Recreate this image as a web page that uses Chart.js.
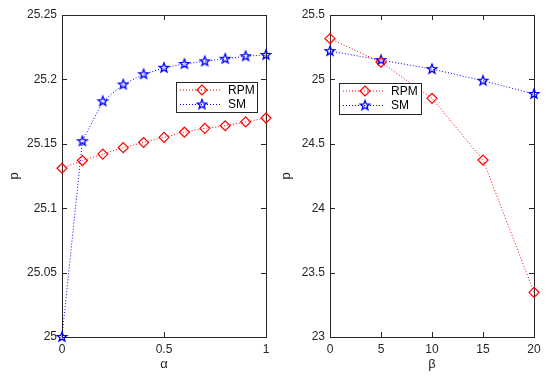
<!DOCTYPE html>
<html>
<head>
<meta charset="utf-8">
<script src="https://cdn.jsdelivr.net/npm/chart.js@4"></script>
<style>
  body { margin: 0; background: #fff; }
  .panel { position: absolute; top: 0; width: 275px; height: 376px; }
</style>
</head>
<body>
<div class="panel" style="left:0"><canvas id="chartAlpha"></canvas></div>
<div class="panel" style="left:275px"><canvas id="chartBeta"></canvas></div>
<script>
// left panel: p versus alpha
var alphaValues = [0, 0.1, 0.2, 0.3, 0.4, 0.5, 0.6, 0.7, 0.8, 0.9, 1];
var alphaRPM = [25.131, 25.137, 25.142, 25.147, 25.151, 25.155, 25.159, 25.162, 25.164, 25.167, 25.170];
var alphaSM = [25.000, 25.152, 25.183, 25.196, 25.204, 25.209, 25.212, 25.214, 25.216, 25.218, 25.219];
var alphaTicksX = [0, 0.5, 1];
var alphaTicksY = [25, 25.05, 25.1, 25.15, 25.2, 25.25];

// right panel: p versus beta
var betaValues = [0, 5, 10, 15, 20];
var betaRPM = [25.316, 25.133, 24.853, 24.374, 23.347];
var betaSM = [25.220, 25.150, 25.080, 24.990, 24.887];
var betaTicksX = [0, 5, 10, 15, 20];
var betaTicksY = [23, 23.5, 24, 24.5, 25, 25.5];

var seriesNames = ['RPM', 'SM'];

var AXIS_COLOR = '#262626';
var FONT = '"Liberation Sans", Arial, sans-serif';

function makeStar(r, color) {
    var size = Math.ceil(r * 2 + 4);
    var c = document.createElement('canvas');
    c.width = size;
    c.height = size;
    var ctx = c.getContext('2d');
    var cx = size / 2, cy = size / 2, inner = r * 0.42;
    ctx.beginPath();
    for (var i = 0; i < 10; i++) {
        var rad = (i % 2 === 0) ? r : inner;
        var ang = -Math.PI / 2 + i * Math.PI / 5;
        var px = cx + Math.cos(ang) * rad, py = cy + Math.sin(ang) * rad;
        if (i === 0) ctx.moveTo(px, py); else ctx.lineTo(px, py);
    }
    ctx.closePath();
    ctx.strokeStyle = color;
    ctx.lineWidth = 1.3;
    ctx.stroke();
    return c;
}

var starImg = makeStar(5, '#0000ff');

function toPoints(xs, ys) {
    return xs.map(function (x, i) { return { x: x, y: ys[i] }; });
}

function fmt(v) {
    return String(Number(v.toFixed(3)));
}

// box with inward ticks (MATLAB style)
var boxPlugin = {
    id: 'matlabBox',
    beforeDatasetsDraw: function (chart) {
        var ctx = chart.ctx, a = chart.chartArea;
        var xs = chart.scales.x, ys = chart.scales.y;
        var len = 5;
        ctx.save();
        ctx.strokeStyle = AXIS_COLOR;
        ctx.lineWidth = 1;
        ctx.beginPath();
        xs.ticks.forEach(function (t) {
            var px = Math.round(xs.getPixelForValue(t.value)) + 0.5;
            ctx.moveTo(px, a.bottom); ctx.lineTo(px, a.bottom - len);
            ctx.moveTo(px, a.top); ctx.lineTo(px, a.top + len);
        });
        ys.ticks.forEach(function (t) {
            var py = Math.round(ys.getPixelForValue(t.value)) + 0.5;
            ctx.moveTo(a.left, py); ctx.lineTo(a.left + len, py);
            ctx.moveTo(a.right, py); ctx.lineTo(a.right - len, py);
        });
        ctx.stroke();
        ctx.strokeRect(Math.round(a.left) + 0.5, Math.round(a.top) + 0.5,
            Math.round(a.right - a.left), Math.round(a.bottom - a.top));
        ctx.restore();
    }
};

// legend box inside the axes
var boxLegendPlugin = {
    id: 'boxLegend',
    afterDatasetsDraw: function (chart, args, opts) {
        var ctx = chart.ctx, a = chart.chartArea;
        var w = opts.width, h = opts.height;
        var x0 = opts.side === 'right' ? a.right - opts.dx - w : a.left + opts.dx;
        var y0 = a.top + opts.dy;
        ctx.save();
        ctx.fillStyle = '#fff';
        ctx.fillRect(x0, y0, w, h);
        ctx.strokeStyle = AXIS_COLOR;
        ctx.lineWidth = 1;
        ctx.strokeRect(Math.round(x0) + 0.5, Math.round(y0) + 0.5, w, h);
        chart.data.datasets.forEach(function (ds, i) {
            var cy = y0 + 8 + i * 14.5;
            var lx0 = x0 + 4, lx1 = x0 + 46, mx = x0 + 26;
            ctx.strokeStyle = ds.borderColor;
            ctx.setLineDash(ds.borderDash);
            ctx.beginPath();
            ctx.moveTo(lx0, cy); ctx.lineTo(lx1, cy);
            ctx.stroke();
            ctx.setLineDash([]);
            if (ds.pointStyle === 'rectRot') {
                var r = ds.pointRadius;
                ctx.lineWidth = ds.pointBorderWidth;
                ctx.fillStyle = '#fff';
                ctx.beginPath();
                ctx.moveTo(mx - r, cy); ctx.lineTo(mx, cy - r);
                ctx.lineTo(mx + r, cy); ctx.lineTo(mx, cy + r);
                ctx.closePath();
                ctx.stroke();
                ctx.lineWidth = 1;
            } else {
                ctx.drawImage(ds.pointStyle, mx - ds.pointStyle.width / 2, cy - ds.pointStyle.height / 2);
            }
            ctx.fillStyle = '#000';
            ctx.font = '12px ' + FONT;
            ctx.textBaseline = 'middle';
            ctx.fillText(ds.label, lx1 + 6, cy + 0.5);
        });
        ctx.restore();
    }
};

function buildChart(id, xs, rpm, sm, ticksX, ticksY, xTitle, yWidth, pad, legend) {
    var xMin = ticksX[0], xMax = ticksX[ticksX.length - 1];
    var yMin = ticksY[0], yMax = ticksY[ticksY.length - 1];
    return new Chart(document.getElementById(id), {
        type: 'line',
        data: {
            datasets: [
                {
                    label: seriesNames[0],
                    data: toPoints(xs, rpm),
                    borderColor: '#ff0000',
                    borderWidth: 1,
                    borderDash: [1, 2],
                    pointStyle: 'rectRot',
                    pointRadius: 5,
                    pointBorderWidth: 1.2,
                    pointBorderColor: '#ff0000',
                    pointBackgroundColor: 'rgba(0,0,0,0)',
                    clip: false
                },
                {
                    label: seriesNames[1],
                    data: toPoints(xs, sm),
                    borderColor: '#0000ff',
                    borderWidth: 1,
                    borderDash: [1, 2],
                    pointStyle: starImg,
                    pointRadius: 5,
                    clip: false
                }
            ]
        },
        options: {
            responsive: true,
            maintainAspectRatio: false,
            animation: false,
            layout: { padding: pad },
            plugins: {
                legend: { display: false },
                tooltip: { enabled: false },
                boxLegend: legend
            },
            scales: {
                x: {
                    type: 'linear',
                    min: xMin,
                    max: xMax,
                    afterBuildTicks: function (s) {
                        s.ticks = ticksX.map(function (v) { return { value: v }; });
                    },
                    afterFit: function (s) { s.height = 39; },
                    grid: { display: false, drawTicks: false },
                    border: { display: false },
                    ticks: {
                        color: AXIS_COLOR,
                        padding: 5,
                        maxRotation: 0,
                        font: { family: FONT, size: 12 },
                        callback: function (v) { return fmt(v); }
                    },
                    title: {
                        display: true,
                        text: xTitle,
                        color: AXIS_COLOR,
                        padding: { top: 0, bottom: 4 },
                        font: { family: FONT, size: 13 }
                    }
                },
                y: {
                    type: 'linear',
                    min: yMin,
                    max: yMax,
                    afterBuildTicks: function (s) {
                        s.ticks = ticksY.map(function (v) { return { value: v }; });
                    },
                    afterFit: function (s) { s.width = yWidth; },
                    grid: { display: false, drawTicks: false },
                    border: { display: false },
                    ticks: {
                        color: AXIS_COLOR,
                        padding: 5,
                        font: { family: FONT, size: 12 },
                        callback: function (v) { return fmt(v); }
                    },
                    title: {
                        display: true,
                        text: 'p',
                        color: AXIS_COLOR,
                        padding: { top: legend.titlePad, bottom: 0 },
                        font: { family: FONT, size: 13 }
                    }
                }
            }
        },
        plugins: [boxPlugin, boxLegendPlugin]
    });
}

buildChart('chartAlpha', alphaValues, alphaRPM, alphaSM, alphaTicksX, alphaTicksY, 'α', 62,
    { left: 0, right: 9, top: 15, bottom: 0 },
    { side: 'right', dx: 9, dy: 67, width: 81, height: 30, titlePad: 7 });

buildChart('chartBeta', betaValues, betaRPM, betaSM, betaTicksX, betaTicksY, 'β', 55,
    { left: 0, right: 16, top: 15, bottom: 0 },
    { side: 'left', dx: 9, dy: 68, width: 82, height: 31, titlePad: 4 });
</script>
</body>
</html>
